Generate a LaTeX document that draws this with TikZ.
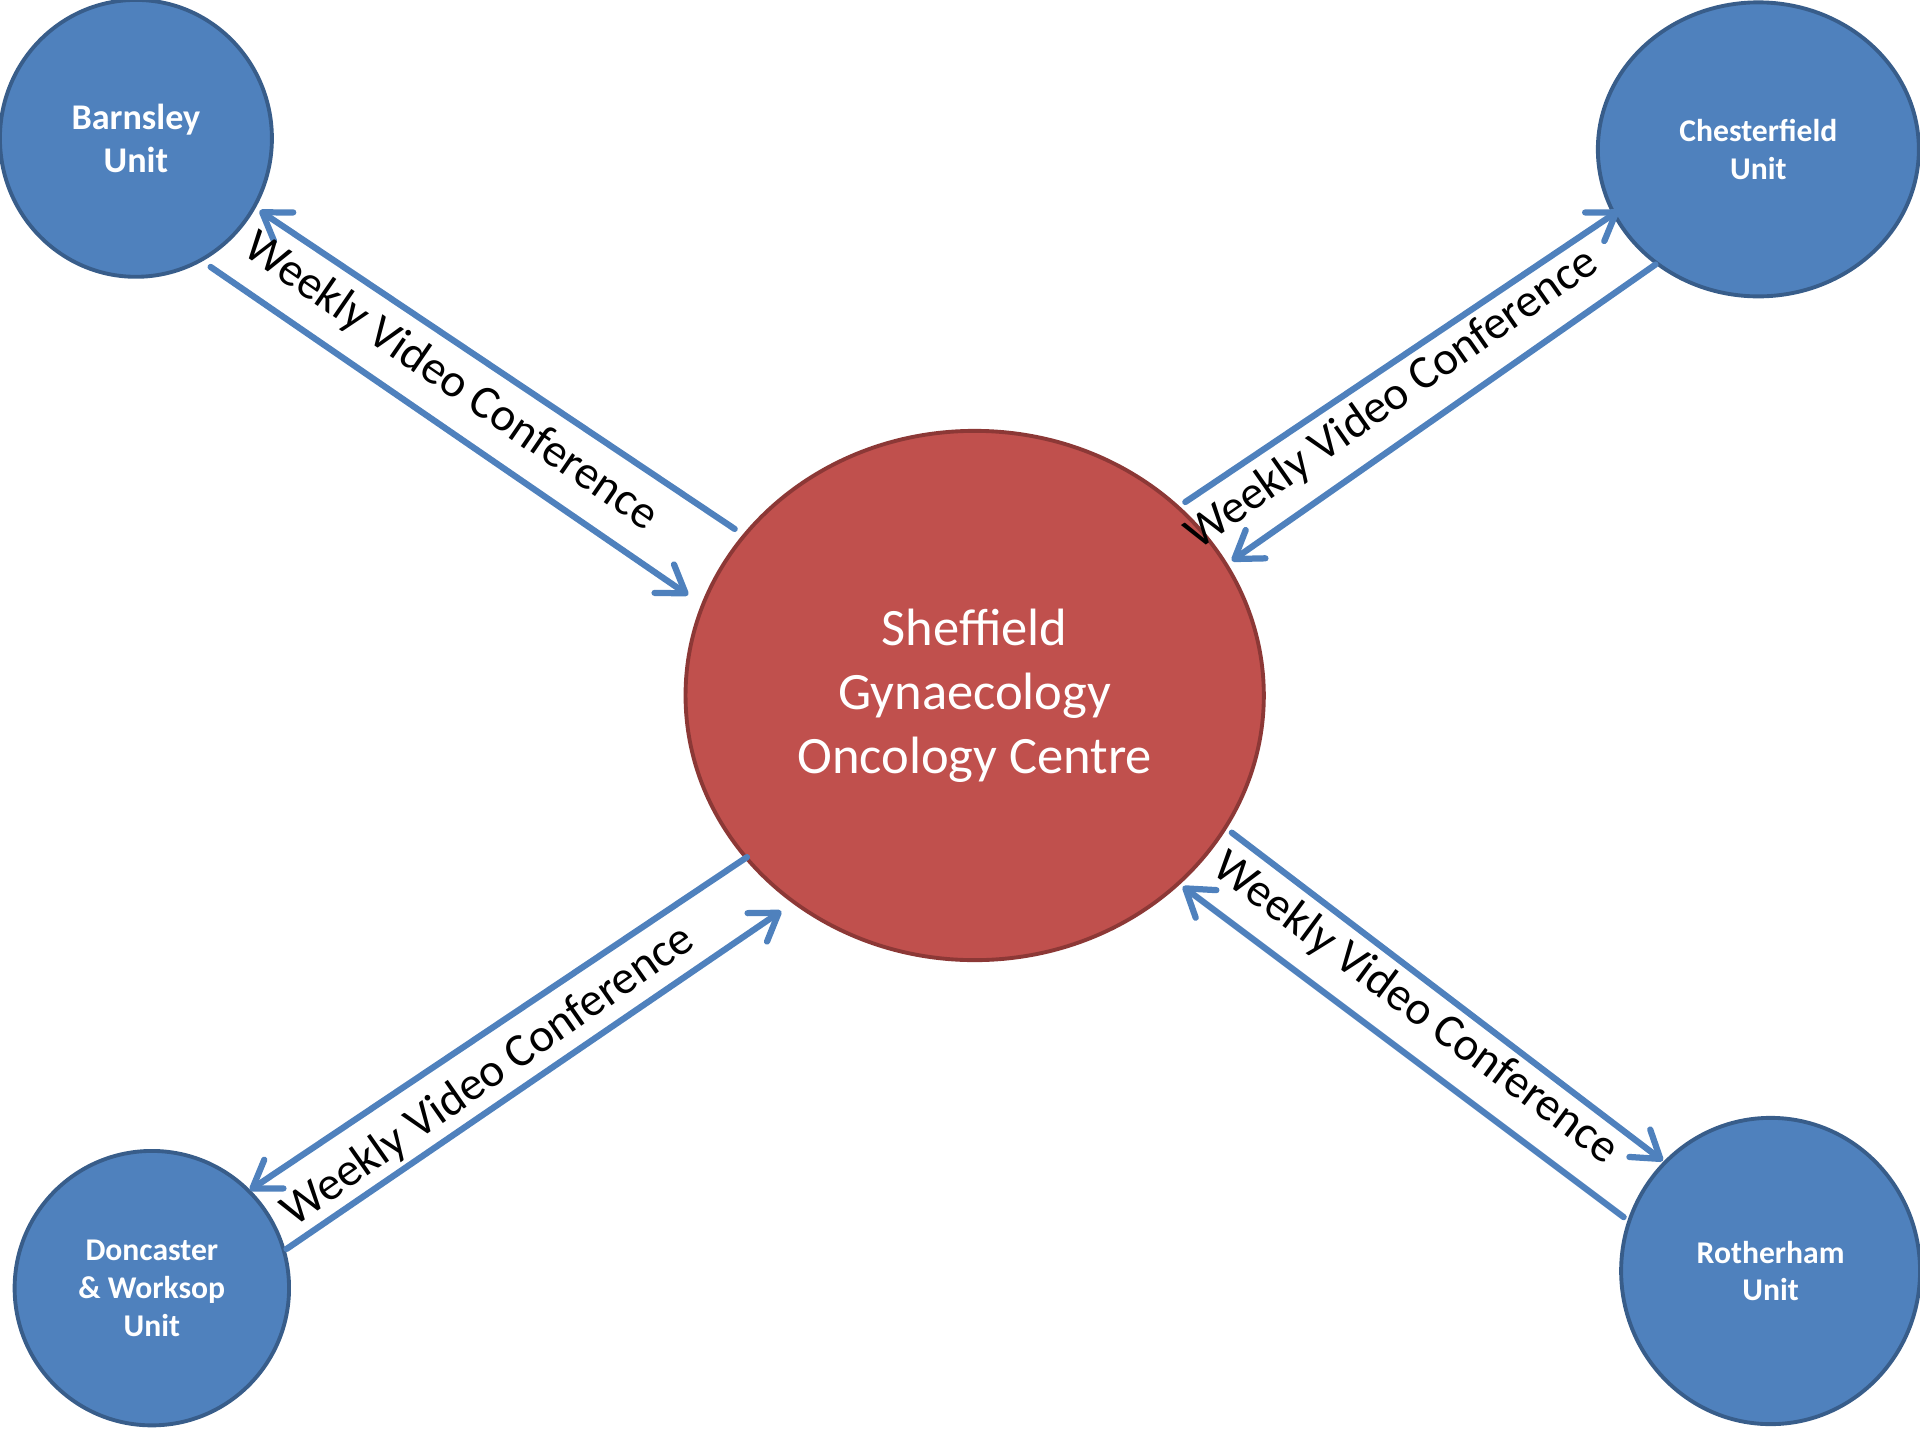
\documentclass[tikz,border=0pt]{standalone}
\usepackage{fontspec}
\setmainfont{Carlito}
\usetikzlibrary{shapes.geometric,arrows.meta}
\definecolor{unitblue}{HTML}{4F81BD}
\definecolor{unitedge}{HTML}{385D8A}
\definecolor{centred}{HTML}{C0504D}
\definecolor{centedge}{HTML}{8C3836}
\begin{document}
\begin{tikzpicture}[x=0.01cm,y=-0.01cm,
  unit/.style={ellipse, fill=unitblue, draw=unitedge, line width=0.9pt, inner sep=0pt, text=white, align=center, font=\bfseries\fontsize{7.35}{8.8}\selectfont},
  centre/.style={ellipse, fill=centred, draw=centedge, line width=0.9pt, inner sep=0pt, text=white, align=center, font=\fontsize{12.2}{14.9}\selectfont},
  link/.style={draw=unitblue, line width=1.45pt, line cap=round, -{Straight Barb[length=6pt,width=8pt,round]}},
  vclabel/.style={font=\fontsize{10.95}{13}\selectfont, inner sep=0pt}
]
\useasboundingbox (0,0) rectangle (1568,1176);
\node[unit, minimum width=2.22cm, minimum height=2.26cm, font=\bfseries\fontsize{8.4}{10}\selectfont] (bar) at (111,113) {Barnsley\\Unit};
\node[unit, minimum width=2.62cm, minimum height=2.40cm] (che) at (1436,122) {Chesterfield\\Unit};
\node[centre, minimum width=4.72cm, minimum height=4.32cm] (ctr) at (796,568) {Sheffield\\Gynaecology\\Oncology Centre};
\node[unit, minimum width=2.24cm, minimum height=2.24cm] (don) at (124,1052) {Doncaster\\\& Worksop\\Unit};
\node[unit, minimum width=2.44cm, minimum height=2.50cm] (rot) at (1446,1038) {Rotherham\\Unit};

\coordinate (b1s) at (600,432); \coordinate (b1e) at (212,172);
\coordinate (b2s) at (172,218); \coordinate (b2e) at (562,486);
\coordinate (c1s) at (968,410); \coordinate (c1e) at (1322,172);
\coordinate (c2s) at (1352,216); \coordinate (c2e) at (1006,458);
\coordinate (d1s) at (610,700); \coordinate (d1e) at (204,972);
\coordinate (d2s) at (234,1020); \coordinate (d2e) at (638,744);
\coordinate (r1s) at (1006,680); \coordinate (r1e) at (1358,948);
\coordinate (r2s) at (1326,994); \coordinate (r2e) at (966,724);

\draw[link] (b1s) -- (b1e);
\draw[link] (b2s) -- (b2e);
\draw[link] (c1s) -- (c1e);
\draw[link] (c2s) -- (c2e);
\draw[link] (d1s) -- (d1e);
\draw[link] (d2s) -- (d2e);
\draw[link] (r1s) -- (r1e);
\draw[link] (r2s) -- (r2e);

\node[vclabel, rotate=-34.5] (lb) at (368,312) {Weekly Video Conference};
\node[vclabel, rotate=35] (lc) at (1137,326) {Weekly Video Conference};
\node[vclabel, rotate=35] (ld) at (399,879) {Weekly Video Conference};
\node[vclabel, rotate=-36.5] (lr) at (1156,824) {Weekly Video Conference};
\end{tikzpicture}
\end{document}
